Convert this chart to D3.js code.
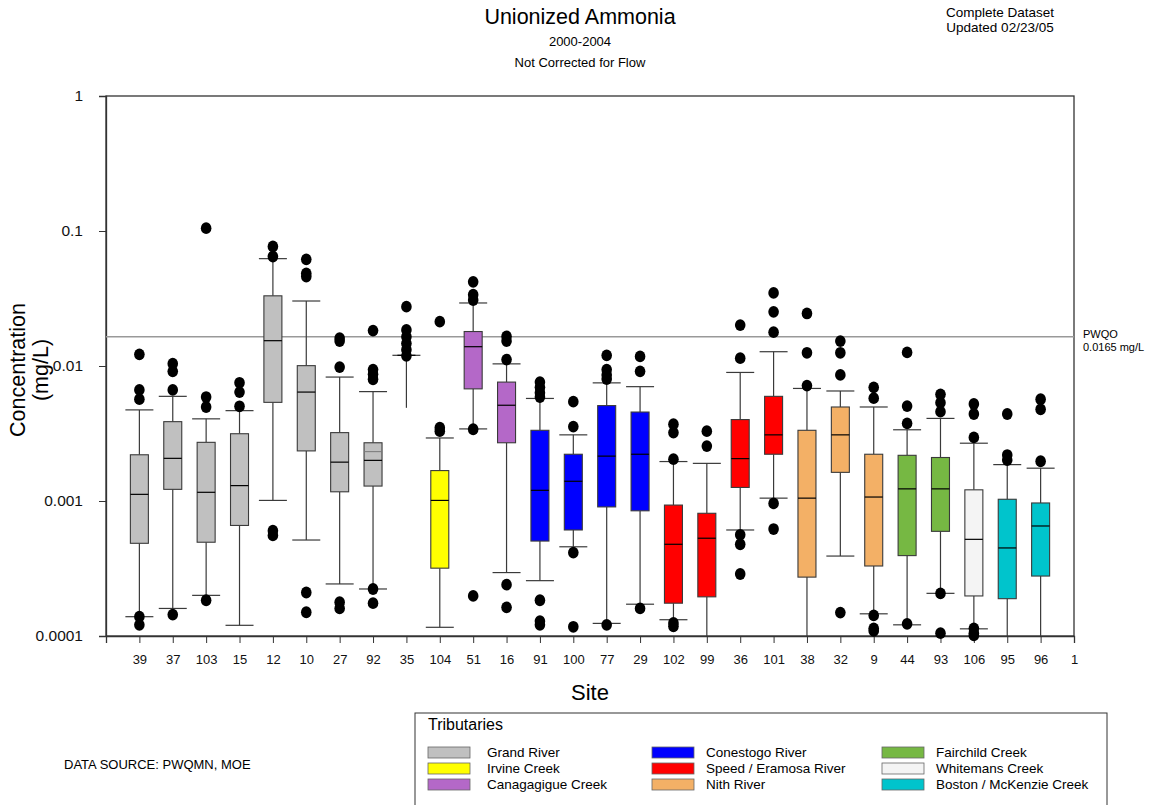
<!DOCTYPE html>
<html>
<head>
<meta charset="utf-8">
<script src="https://cdn.jsdelivr.net/npm/d3@7"></script>
<style>
  html, body { margin: 0; padding: 0; background: #fff; }
  svg { display: block; font-family: "Liberation Sans", Arial, sans-serif; }
</style>
</head>
<body>
<svg id="chart" width="1157" height="805"></svg>
<script>
// ---------------- DATA ----------------
const sites = ["39","37","103","15","12","10","27","92","35","104","51","16","91","100","77","29","102","99","36","101","38","32","9","44","93","106","95","96","1"];
const tributaries = ["Grand River","Irvine Creek","Canagagigue Creek","Conestogo River","Speed / Eramosa River","Nith River","Fairchild Creek","Whitemans Creek","Boston / McKenzie Creek"];
const tribColors = ["#c0c0c0","#ffff00","#b468c8","#0000ff","#ff0000","#f3b066","#76b843","#f4f4f4","#00c4cc"];
// tributary index for each site (null = no data)
const siteGroup = [0,0,0,0,0,0,0,0,0,1,2,2,3,3,3,3,4,4,4,4,5,5,5,6,6,7,8,8,null];
const whiskerLow  = [0.000139,0.00016,0.0002,0.00012,0.00101,0.000514,0.000243,0.000223,0.0049,0.000116,0.00342,0.000295,0.000257,0.000458,0.000124,0.000172,0.000132,0.00008,0.00061,0.00105,0.00008,0.000391,0.000146,0.000121,0.000207,0.000113,0.00008,0.00008,null];
const q1          = [0.000486,0.00122,0.000495,0.000659,0.00538,0.00235,0.00117,0.00129,0.012,0.000318,0.00677,0.0027,0.000505,0.00061,0.000904,0.000846,0.000175,0.000195,0.00126,0.00222,0.000273,0.00163,0.00033,0.000394,0.000596,0.000198,0.000189,0.000278,null];
const median      = [0.00112,0.00207,0.00116,0.0013,0.0154,0.00641,0.00194,0.002,0.012,0.00101,0.0139,0.00512,0.0012,0.0014,0.00215,0.00222,0.000478,0.00053,0.00206,0.00309,0.00105,0.00309,0.00107,0.00123,0.00123,0.00052,0.000449,0.000653,null];
const q3          = [0.0022,0.00387,0.00272,0.00315,0.0331,0.01006,0.00321,0.0027,0.012,0.00168,0.018,0.0076,0.00334,0.00222,0.00509,0.00456,0.000933,0.000811,0.00401,0.00596,0.00334,0.00497,0.00222,0.00218,0.0021,0.00121,0.00103,0.000967,null];
const whiskerHigh = [0.00473,0.00596,0.00406,0.00467,0.0624,0.0303,0.00828,0.00646,0.012,0.00293,0.0293,0.01037,0.00575,0.00309,0.0075,0.00703,0.00196,0.0019,0.00896,0.01276,0.00682,0.00653,0.00497,0.00337,0.00409,0.00268,0.00186,0.00175,null];
const meanLine    = [null,null,null,null,null,null,null,0.00232,null,null,null,null,null,null,null,null,null,null,null,null,null,null,null,null,null,null,null,null,null];
const noLowerCap  = ["35"];
const outliers = [
  [0.0122,0.00665,0.00568,0.000139,0.000121],
  [0.0104,0.00913,0.00665,0.000144],
  [0.105,0.00589,0.00497,0.000184],
  [0.00751,0.00641,0.00503],
  [0.0768,0.0647,0.000602,0.000556],
  [0.0617,0.0486,0.046,0.00021,0.00015],
  [0.0161,0.0153,0.00982,0.000178,0.00016],
  [0.0183,0.00941,0.00869,0.00798,0.000223,0.000175],
  [0.0275,0.0185,0.0165,0.0147,0.0132,0.0119],
  [0.0213,0.00349,0.00329],
  [0.042,0.0337,0.0308,0.0034,0.000198],
  [0.01656,0.0153,0.01116,0.00024,0.000163],
  [0.0076,0.00695,0.00634,0.00589,0.000184,0.000129,0.000121],
  [0.00544,0.00356,0.000415,0.000117],
  [0.012,0.00941,0.00859,0.008,0.000121],
  [0.01178,0.00913,0.00016],
  [0.00371,0.00321,0.00204,0.000125,0.000118],
  [0.00329,0.00255],
  [0.0201,0.01143,0.000562,0.000478,0.000288],
  [0.0348,0.0252,0.0178,0.00096,0.00062],
  [0.0245,0.01253,0.00716],
  [0.0153,0.01253,0.00859,0.000149],
  [0.00695,0.00578,0.000142,0.000114,0.000109],
  [0.0126,0.00505,0.00376,0.000123],
  [0.00617,0.00535,0.00459,0.000207,0.000105],
  [0.00523,0.00441,0.00296,0.000114,0.000105,0.000101],
  [0.00441,0.00219,0.00201],
  [0.00567,0.00478,0.00197],
  []
];
const yTickValues = [0.0001,0.001,0.01,0.1,1];
const yTickLabels = ["0.0001","0.001","0.01","0.1","1"];
const pwqo = 0.0165;

// ---------------- LAYOUT ----------------
const svg = d3.select("#chart");
const plot = {left:106, right:1074, top:96, bottom:636};

const x = d3.scaleLinear().domain([-1, sites.length - 1]).range([plot.left, plot.right]);
const y = d3.scaleLog().domain([0.0001, 1]).range([plot.bottom, plot.top]);

const boxW = 18, capW = 28;
const lineColor = "#3a3a3a";

svg.append("defs").append("clipPath").attr("id","clip")
  .append("rect").attr("x",plot.left).attr("y",plot.top)
  .attr("width",plot.right-plot.left).attr("height",plot.bottom-plot.top);

// Titles
svg.append("text").attr("x",580).attr("y",24).attr("text-anchor","middle")
  .attr("font-size",21.5).text("Unionized Ammonia");
svg.append("text").attr("x",580).attr("y",46).attr("text-anchor","middle")
  .attr("font-size",13).text("2000-2004");
svg.append("text").attr("x",580).attr("y",67).attr("text-anchor","middle")
  .attr("font-size",13).text("Not Corrected for Flow");
svg.append("text").attr("x",1000).attr("y",17).attr("text-anchor","middle")
  .attr("font-size",13.5).text("Complete Dataset");
svg.append("text").attr("x",1000).attr("y",32).attr("text-anchor","middle")
  .attr("font-size",13.5).text("Updated 02/23/05");

// Frame
svg.append("rect").attr("x",plot.left).attr("y",plot.top)
  .attr("width",plot.right-plot.left).attr("height",plot.bottom-plot.top)
  .attr("fill","none").attr("stroke","#333").attr("stroke-width",1.3);

// Y axis
const yAxis = d3.axisLeft(y).tickValues(yTickValues)
  .tickFormat((d,i)=>yTickLabels[i]).tickSize(7).tickPadding(16);
const gy = svg.append("g").attr("transform",`translate(${plot.left},0)`).call(yAxis);
gy.select(".domain").attr("stroke","#333").attr("stroke-width",1.3);
gy.selectAll(".tick line").attr("stroke","#333");
gy.selectAll(".tick text").attr("font-size",15.5).attr("fill","#111")
  .attr("font-family","'Liberation Sans', Arial, sans-serif");

// X axis
const xAxis = d3.axisBottom(x).tickValues(d3.range(sites.length))
  .tickFormat(i=>sites[i]).tickSize(7).tickPadding(12);
const gx = svg.append("g").attr("transform",`translate(0,${plot.bottom})`).call(xAxis);
gx.select(".domain").attr("stroke","#333").attr("stroke-width",1.3);
gx.selectAll(".tick line").attr("stroke","#333");
gx.selectAll(".tick text").attr("font-size",13).attr("fill","#111")
  .attr("font-family","'Liberation Sans', Arial, sans-serif");

// Axis titles
svg.append("text").attr("transform","translate(25,370) rotate(-90)")
  .attr("text-anchor","middle").attr("font-size",21.5).text("Concentration");
svg.append("text").attr("transform","translate(48,370) rotate(-90)")
  .attr("text-anchor","middle").attr("font-size",21.5).text("(mg/L)");
svg.append("text").attr("x",590).attr("y",700).attr("text-anchor","middle")
  .attr("font-size",22).text("Site");

// PWQO line
svg.append("line").attr("x1",plot.left).attr("x2",plot.right)
  .attr("y1",y(pwqo)).attr("y2",y(pwqo))
  .attr("stroke","#999").attr("stroke-width",1.5);
svg.append("text").attr("x",1083).attr("y",y(pwqo)+1).attr("font-size",11).text("PWQO");
svg.append("text").attr("x",1083).attr("y",y(pwqo)+14).attr("font-size",11).text("0.0165 mg/L");

// Boxes
const clamp = v => Math.max(v, 0.0001);
const boxes = svg.append("g").attr("clip-path","url(#clip)");
sites.forEach((s,i) => {
  if (siteGroup[i] === null) return;
  const cx = x(i);
  const g = boxes.append("g");
  g.append("line").attr("x1",cx).attr("x2",cx)
    .attr("y1",y(q3[i])).attr("y2",y(whiskerHigh[i]))
    .attr("stroke",lineColor).attr("stroke-width",1.2);
  g.append("line").attr("x1",cx).attr("x2",cx)
    .attr("y1",y(q1[i])).attr("y2",y(clamp(whiskerLow[i])))
    .attr("stroke",lineColor).attr("stroke-width",1.2);
  g.append("line").attr("x1",cx-capW/2).attr("x2",cx+capW/2)
    .attr("y1",y(whiskerHigh[i])).attr("y2",y(whiskerHigh[i]))
    .attr("stroke",lineColor).attr("stroke-width",1.2);
  if (whiskerLow[i] >= 0.0001 && !noLowerCap.includes(s)) {
    g.append("line").attr("x1",cx-capW/2).attr("x2",cx+capW/2)
      .attr("y1",y(whiskerLow[i])).attr("y2",y(whiskerLow[i]))
      .attr("stroke",lineColor).attr("stroke-width",1.2);
  }
  g.append("rect").attr("x",cx-boxW/2).attr("y",y(q3[i]))
    .attr("width",boxW).attr("height",Math.max(0,y(q1[i])-y(q3[i])))
    .attr("fill",tribColors[siteGroup[i]]).attr("stroke",lineColor).attr("stroke-width",1.1);
  g.append("line").attr("x1",cx-boxW/2).attr("x2",cx+boxW/2)
    .attr("y1",y(median[i])).attr("y2",y(median[i]))
    .attr("stroke","#000").attr("stroke-width",1.2);
  if (meanLine[i] !== null) {
    g.append("line").attr("x1",cx-boxW/2).attr("x2",cx+boxW/2)
      .attr("y1",y(meanLine[i])).attr("y2",y(meanLine[i]))
      .attr("stroke","#777").attr("stroke-width",1);
  }
});

// Outliers
const dots = svg.append("g");
sites.forEach((s,i) => {
  outliers[i].forEach(v => {
    dots.append("ellipse").attr("cx",x(i)).attr("cy",y(v))
      .attr("rx",5.3).attr("ry",5.9).attr("fill","#000");
  });
});

// Data source
svg.append("text").attr("x",64).attr("y",769).attr("font-size",13).text("DATA SOURCE: PWQMN, MOE");

// Legend
const leg = svg.append("g");
leg.append("rect").attr("x",415).attr("y",713).attr("width",692).attr("height",100)
  .attr("fill","#fff").attr("stroke","#333").attr("stroke-width",1);
leg.append("text").attr("x",428).attr("y",730).attr("font-size",16).text("Tributaries");
const colX = [428, 652, 882];
const textX = [487, 706, 936];
const rowY = [752, 768, 784];
tributaries.forEach((t,k) => {
  const c = Math.floor(k/3), r = k%3;
  leg.append("rect").attr("x",colX[c]).attr("y",rowY[r]-5).attr("width",42).attr("height",11)
    .attr("fill",tribColors[k]).attr("stroke","#666").attr("stroke-width",0.8);
  leg.append("text").attr("x",textX[c]).attr("y",rowY[r]+5).attr("font-size",13.5).text(t);
});
</script>
</body>
</html>
